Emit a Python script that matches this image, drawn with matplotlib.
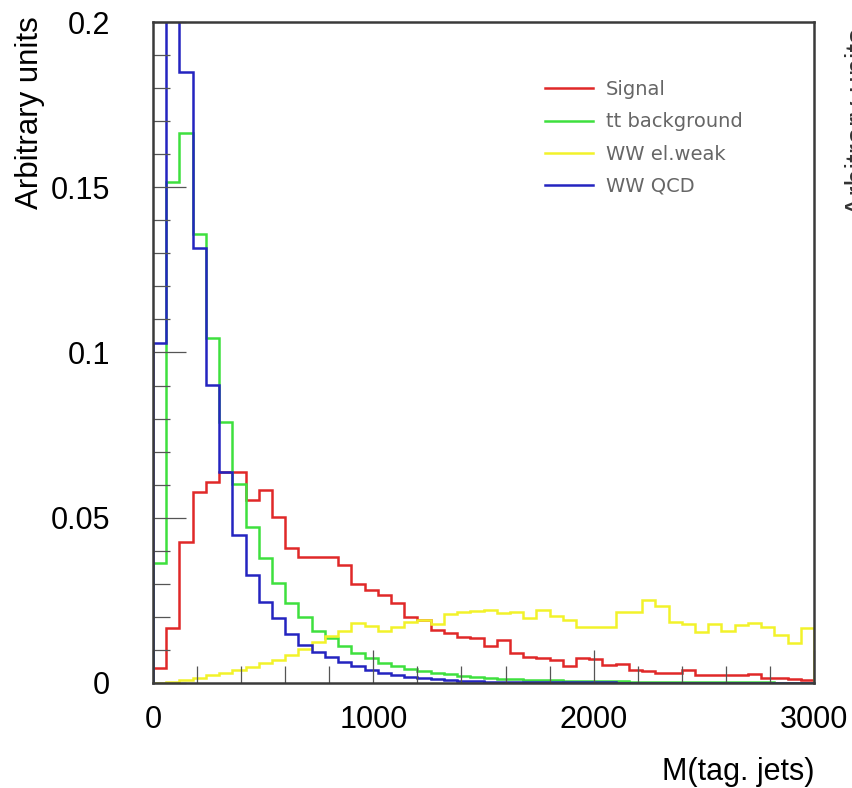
import numpy as np
import matplotlib
matplotlib.use("Agg")
import matplotlib.pyplot as plt
from matplotlib.ticker import MultipleLocator, FuncFormatter

# 50 bins of 60 GeV, 0 - 3000
edges = np.linspace(0, 3000, 51)

signal = [0.0044, 0.0165, 0.0428, 0.0579, 0.0608, 0.0639, 0.0639, 0.0554, 0.0584, 0.0503,
          0.0408, 0.0382, 0.0382, 0.0382, 0.0357, 0.0301, 0.0281, 0.0266, 0.0241, 0.0201,
          0.0191, 0.0160, 0.0150, 0.0140, 0.0135, 0.0112, 0.0130, 0.0090, 0.0080, 0.0075,
          0.0070, 0.0050, 0.0075, 0.0072, 0.0055, 0.0059, 0.0040, 0.0035, 0.0030, 0.0030,
          0.0038, 0.0024, 0.0023, 0.0023, 0.0025, 0.0028, 0.0014, 0.0014, 0.0013, 0.0010]

tt_bkg = [0.0362, 0.1517, 0.1663, 0.1360, 0.1043, 0.0790, 0.0602, 0.0472, 0.0377, 0.0302,
          0.0241, 0.0200, 0.0158, 0.0135, 0.0112, 0.0092, 0.0075, 0.0062, 0.0052, 0.0042,
          0.0035, 0.0030, 0.0026, 0.0022, 0.0018, 0.0015, 0.0013, 0.0011, 0.0010, 0.0009,
          0.0008, 0.0007, 0.0006, 0.0006, 0.0005, 0.0005, 0.0004, 0.0004, 0.0004, 0.0003,
          0.0003, 0.0003, 0.0002, 0.0002, 0.0002, 0.0002, 0.0002, 0.0001, 0.0001, 0.0001]

ww_ew = [0.0001, 0.0004, 0.0009, 0.0016, 0.0023, 0.0031, 0.0039, 0.0049, 0.0060, 0.0070,
         0.0085, 0.0103, 0.0125, 0.0143, 0.0158, 0.0182, 0.0172, 0.0158, 0.0170, 0.0184,
         0.0190, 0.0178, 0.0208, 0.0215, 0.0218, 0.0222, 0.0212, 0.0214, 0.0198, 0.0220,
         0.0203, 0.0190, 0.0170, 0.0170, 0.0170, 0.0216, 0.0216, 0.0251, 0.0233, 0.0185,
         0.0178, 0.0154, 0.0178, 0.0156, 0.0176, 0.0182, 0.0168, 0.0145, 0.0122, 0.0165]

ww_qcd = [0.1028, 0.2300, 0.1850, 0.1315, 0.0902, 0.0639, 0.0448, 0.0327, 0.0246, 0.0196,
          0.0148, 0.0115, 0.0095, 0.0078, 0.0065, 0.0050, 0.0039, 0.0031, 0.0024, 0.0019,
          0.0015, 0.0011, 0.0009, 0.0007, 0.0005, 0.0004, 0.0004, 0.0003, 0.0003, 0.0003,
          0.0002, 0.0002, 0.0002, 0.0002, 0.0002, 0.0001, 0.0001, 0.0001, 0.0001, 0.0001,
          0.0001, 0.0001, 0.0001, 0.0001, 0.0001, 0.0001, 0.0001, 0.0001, 0.0001, 0.0001]

labels = ["Signal", "tt background", "WW el.weak", "WW QCD"]
colors = ["#e02828", "#3ee03e", "#f2f22a", "#2424c0"]

plt.rcParams["font.family"] = ["Liberation Sans", "DejaVu Sans"]

fig = plt.figure(figsize=(8.53, 7.88), dpi=100)
ax = fig.add_axes([153 / 853, 105 / 788, 661 / 853, 661 / 788])

for vals, col, lab in zip([signal, tt_bkg, ww_ew, ww_qcd], colors, labels):
    ax.stairs(vals, edges, baseline=0, color=col, linewidth=1.8, label=lab)

ax.set_xlim(0, 3000)
ax.set_ylim(0, 0.2)

ax.xaxis.set_major_locator(MultipleLocator(1000))
ax.xaxis.set_minor_locator(MultipleLocator(200))
ax.yaxis.set_major_locator(MultipleLocator(0.05))
ax.yaxis.set_minor_locator(MultipleLocator(0.01))
ax.yaxis.set_major_formatter(FuncFormatter(lambda v, p: f"{v:g}"))

ax.tick_params(which="both", direction="in", top=False, right=False,
               color="#555555", width=0.9, labelsize=22)
ax.tick_params(which="major", length=24)
ax.tick_params(which="minor", length=12.5)
ax.tick_params(axis="y", pad=31)
ax.tick_params(axis="x", pad=16)

for s in ax.spines.values():
    s.set_linewidth(1.8)
    s.set_color("#3a3a3a")

ax.set_xlabel("M(tag. jets)", fontsize=22, loc="right", labelpad=16)
ax.set_ylabel("Arbitrary units", fontsize=22.5, loc="top")
ax.yaxis.set_label_coords(-0.163, 1.008)

leg = ax.legend(loc="upper left", bbox_to_anchor=(0.593, 0.912), frameon=False,
                handlelength=2.45, handletextpad=0.7, labelspacing=0.68,
                borderpad=0, borderaxespad=0, labelcolor="#666666",
                prop={"family": "DejaVu Sans", "size": 14})
for h in leg.get_patches():
    h.set_linewidth(2.2)

# edge of the neighbouring panel's axis title, cut off by the crop
fig.text(845 / 853, 1 - 28 / 788, "Arbitrary units", rotation=90, fontsize=22,
         ha="left", va="top", color="#333333")

fig.savefig("out.png", dpi=100)
